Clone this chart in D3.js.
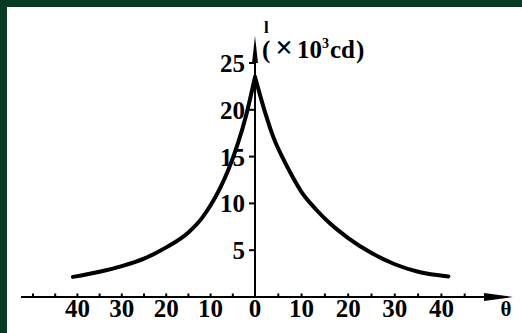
<!DOCTYPE html>
<html>
<head>
<meta charset="utf-8">
<script src="https://cdn.jsdelivr.net/npm/d3@7"></script>
<style>
  html, body { margin: 0; padding: 0; background: #ffffff; }
  svg { display: block; }
  text { font-family: "Liberation Serif", "Times New Roman", serif; font-weight: bold; fill: #000; }
</style>
</head>
<body>
<svg id="chart" width="522" height="333"></svg>
<script>
// Luminous intensity I (×10³ cd) against angle θ (degrees), left and right of the axis
const leftAngle     = [-41, -35, -30, -25, -20, -15, -12, -10, -8, -6, -4, -2, 0];
const leftIntensity = [2.15, 2.7, 3.3, 4.1, 5.3, 6.9, 8.4, 9.8, 11.5, 13.6, 16.2, 19.4, 23.5];
const rightAngle     = [0, 2, 4, 6, 8, 10, 13, 16, 20, 25, 30, 35, 41.5];
const rightIntensity = [23.5, 20.0, 17.0, 14.8, 12.9, 11.2, 9.4, 7.9, 6.3, 4.7, 3.5, 2.7, 2.2];

const xLabelTicks = [-40, -30, -20, -10, 0, 10, 20, 30, 40];
const xMinorTicks = [-50, -45, -40, -35, -30, -25, -20, -15, -10, -5, 5, 10, 15, 20, 25, 30, 35, 40, 45];
const yTicks = [5, 10, 15, 20, 25];
const yAxisTitle = "l";
const xAxisTitle = "θ";

const svg = d3.select("#chart");
const W = 522, H = 333;

// frame on the top and left edges
svg.append("rect").attr("x", 0).attr("y", 0).attr("width", W).attr("height", 7).attr("fill", "#063a23");
svg.append("rect").attr("x", 0).attr("y", 0).attr("width", 7).attr("height", H).attr("fill", "#063a23");

const x = d3.scaleLinear().domain([-50, 0, 50]).range([33, 255, 488]);
const y = d3.scaleLinear().domain([0, 25]).range([297, 63]);

const x0 = x(0), y0 = y(0);

// horizontal axis with arrow
svg.append("line")
  .attr("x1", 21).attr("x2", 492).attr("y1", y0).attr("y2", y0)
  .attr("stroke", "#000").attr("stroke-width", 2);
svg.append("path")
  .attr("d", `M484,${y0 - 4}L513,${y0}L484,${y0 + 4}Z`)
  .attr("fill", "#000");

svg.append("g").selectAll("line").data(xMinorTicks).join("line")
  .attr("x1", d => x(d)).attr("x2", d => x(d))
  .attr("y1", y0).attr("y2", y0 - 3.5)
  .attr("stroke", "#000").attr("stroke-width", 2);

svg.append("g").selectAll("text").data(xLabelTicks).join("text")
  .attr("x", d => x(d)).attr("y", 317)
  .attr("text-anchor", "middle")
  .attr("font-size", 25)
  .text(d => Math.abs(d));

svg.append("text")
  .attr("x", 506).attr("y", 316)
  .attr("text-anchor", "middle")
  .attr("font-size", 21)
  .text(xAxisTitle);

// vertical axis with arrow
svg.append("line")
  .attr("x1", x0).attr("x2", x0).attr("y1", y0).attr("y2", 60)
  .attr("stroke", "#000").attr("stroke-width", 2);
svg.append("path")
  .attr("d", `M${x0 - 3},63L${x0},36L${x0 + 3},63Z`)
  .attr("fill", "#000");

svg.append("g").selectAll("line").data(yTicks).join("line")
  .attr("x1", x0 - 6).attr("x2", x0)
  .attr("y1", d => y(d)).attr("y2", d => y(d))
  .attr("stroke", "#000").attr("stroke-width", 2);

svg.append("g").selectAll("text").data(yTicks).join("text")
  .attr("x", 245).attr("y", d => y(d) + 9)
  .attr("text-anchor", "end")
  .attr("font-size", 25)
  .text(d => d);

// axis title and unit
svg.append("text")
  .attr("x", 264).attr("y", 33)
  .attr("font-size", 17)
  .text(yAxisTitle);

const unit = svg.append("text").attr("x", 262).attr("y", 58).attr("font-size", 25);
unit.append("tspan").text("(");
unit.append("tspan").attr("dx", 5).attr("font-size", 31).text("×");
unit.append("tspan").attr("dx", 4).text("10");
unit.append("tspan").attr("dy", -10).attr("font-size", 14).text("3");
unit.append("tspan").attr("dy", 10).attr("dx", 1).text("cd");
unit.append("tspan").attr("dx", 1).text(")");

// intensity curve, drawn as two branches meeting in a cusp at θ = 0
const line = d3.line()
  .x(d => x(d[0]))
  .y(d => y(d[1]))
  .curve(d3.curveMonotoneX);

const branches = [
  d3.zip(leftAngle, leftIntensity),
  d3.zip(rightAngle, rightIntensity)
];

svg.append("g").selectAll("path").data(branches).join("path")
  .attr("d", line)
  .attr("fill", "none")
  .attr("stroke", "#000")
  .attr("stroke-width", 4)
  .attr("stroke-linecap", "round")
  .attr("stroke-linejoin", "round");
</script>
</body>
</html>
